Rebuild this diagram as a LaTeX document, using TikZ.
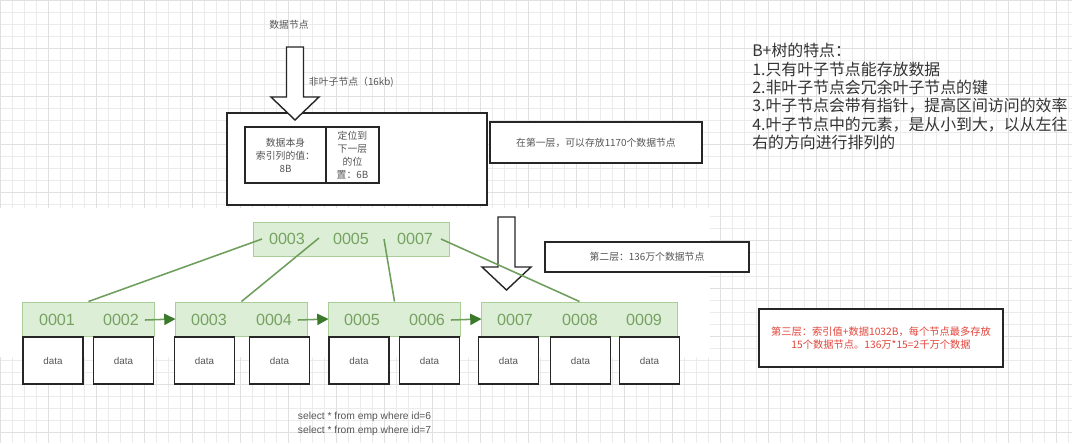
\documentclass[tikz,border=0pt]{standalone}
\usepackage{fontspec}
\setmainfont{Noto Sans CJK SC}
\newfontfamily\latinfont{Liberation Sans}
\usepackage{tikz}
\usetikzlibrary{arrows.meta, positioning}
\definecolor{leaffill}{HTML}{DDEED6}
\definecolor{leafline}{HTML}{A9CE98}
\definecolor{keytext}{HTML}{76A262}
\definecolor{treeline}{HTML}{6E9E5B}
\definecolor{linkhead}{HTML}{3B7A2B}
\definecolor{notetext}{HTML}{555555}
\definecolor{warnred}{HTML}{E2453A}
\definecolor{gridminor}{HTML}{EBEBEB}
\definecolor{gridmajor}{HTML}{E0E0E0}

\begin{document}
\begin{tikzpicture}[
  x=0.025cm, y=-0.025cm,
  note/.style={font=\fontsize{7}{9.2}\selectfont, text=notetext},
  plainbox/.style={rectangle, draw=black!85, line width=0.9pt, fill=white, inner sep=0pt},
  leaf/.style={rectangle, draw=leafline, fill=leaffill, line width=0.7pt,
               minimum height=0.85cm, inner sep=0pt},
  keytxt/.style={font=\latinfont\fontsize{11.5}{13}\selectfont, text=keytext, inner sep=1pt},
  databox/.style={plainbox, minimum width=1.5cm, minimum height=1.175cm,
                  font=\latinfont\fontsize{7}{9}\selectfont, text=notetext},
  pointer/.style={draw=treeline, line width=1.1pt},
  link/.style={-{Triangle[length=8pt, width=8pt, color=linkhead]}, draw=treeline, line width=1.1pt},
  hollow/.style={draw=black!85, line width=1pt, fill=white}
]
\useasboundingbox (0,0) rectangle (1072,443);

% background grid
\fill[white] (0,0) rectangle (1072,443);
\draw[gridminor, line width=0.4pt, step=0.3cm] (0,0) grid (1072,443);
\draw[gridmajor, line width=0.5pt, step=1.2cm] (0,0) grid (1072,443);
\fill[white] (0,208) rectangle (710,357);

% first level (page)
\node[note] (title) at (289,25) {数据节点};
\node[note, anchor=west] (pagesize) at (304,82) {非叶子节点（16kb)};
\node[plainbox, minimum width=6.5cm, minimum height=2.3cm] (page) at (357,159) {};
\node[plainbox, note, align=center, minimum width=2.025cm, minimum height=1.4cm] (cellkey) at (285.5,155) {数据本身\\索引列的值：\\8B};
\node[plainbox, note, align=center, minimum width=1.325cm, minimum height=1.4cm] (cellptr) at (352.5,155) {定位到\\下一层\\的位\\置：6B};
\draw[hollow] (286.5,47) -- (303.5,47) -- (303.5,97) -- (319,97) -- (295,120)
  -- (271,97) -- (286.5,97) -- cycle;

\node[plainbox, note, minimum width=5.3cm, minimum height=1.025cm] (lvl1) at (596,142.5) {在第一层，可以存放1170个数据节点};
\node[plainbox, note, minimum width=5.1cm, minimum height=0.75cm] (lvl2) at (647,257) {第二层：136万个数据节点};
\node[plainbox, font=\fontsize{7.3}{9.4}\selectfont, text=warnred, align=center,
      minimum width=6.1cm, minimum height=1.45cm] (lvl3) at (881,338) {第三层：索引值+数据1032B，每个节点最多存放\\15个数据节点。136万*15=2千万个数据};

% features
\node[anchor=north west, align=left, inner sep=0pt, text=black!80,
      font=\fontsize{11.3}{13.1}\selectfont] (feat) at (752,43)
  {B+树的特点：\\1.只有叶子节点能存放数据\\2.非叶子节点会冗余叶子节点的键\\3.叶子节点会带有指针，提高区间访问的效率\\4.叶子节点中的元素，是从小到大，以从左往\\右的方向进行排列的};

% root
\node[leaf, minimum width=4.875cm] (root) at (351.5,239) {};
\node[keytxt] (r3) at (287,239) {0003};
\node[keytxt] (r5) at (351,239) {0005};
\node[keytxt] (r7) at (415,239) {0007};
\coordinate (rp1) at (262,239);
\coordinate (rp2) at (319,238);
\coordinate (rp3) at (384,239);
\coordinate (rp4) at (441,239);

% leaves
\node[leaf, minimum width=3.275cm] (leafA) at (88.5,319) {};
\node[leaf, minimum width=3.275cm] (leafB) at (241.5,319) {};
\node[leaf, minimum width=3.275cm] (leafC) at (394.5,319) {};
\node[leaf, minimum width=4.875cm] (leafD) at (579.5,319) {};
\node[keytxt] (k1) at (57,320) {0001};
\node[keytxt] (k2) at (121,320) {0002};
\node[keytxt] (k3) at (209,320) {0003};
\node[keytxt] (k4) at (274,320) {0004};
\node[keytxt] (k5) at (362,320) {0005};
\node[keytxt] (k6) at (427,320) {0006};
\node[keytxt] (k7) at (515,320) {0007};
\node[keytxt] (k8) at (580,320) {0008};
\node[keytxt] (k9) at (644,320) {0009};

\node[databox] (d1) at (53,360.5) {data};
\node[databox] (d2) at (123.5,360.5) {data};
\node[databox] (d3) at (204.5,360.5) {data};
\node[databox] (d4) at (279.5,360.5) {data};
\node[databox] (d5) at (359,360.5) {data};
\node[databox] (d6) at (429.5,360.5) {data};
\node[databox] (d7) at (508.5,360.5) {data};
\node[databox] (d8) at (580.5,360.5) {data};
\node[databox] (d9) at (649.5,360.5) {data};

\draw[hollow] (498,217) -- (515,217) -- (515,267) -- (531,267) -- (506.5,290)
  -- (482,267) -- (498,267) -- cycle;

\draw[pointer] (rp1) -- (leafA.north);
\draw[pointer] (rp2) -- (leafB.north);
\draw[pointer] (rp3) -- (leafC.north);
\draw[pointer] (rp4) -- (leafD.north);
\draw[link] ([xshift=3pt]k2.east) -- (leafB.west);
\draw[link] ([xshift=3pt]k4.east) -- (leafC.west);
\draw[link] ([xshift=3pt]k6.east) -- (leafD.west);

\node[note, anchor=west, align=left, font=\latinfont\fontsize{7.3}{10}\selectfont] (sql) at (293,424)
  {select * from emp where id=6\\select * from emp where id=7};

\end{tikzpicture}
\end{document}
